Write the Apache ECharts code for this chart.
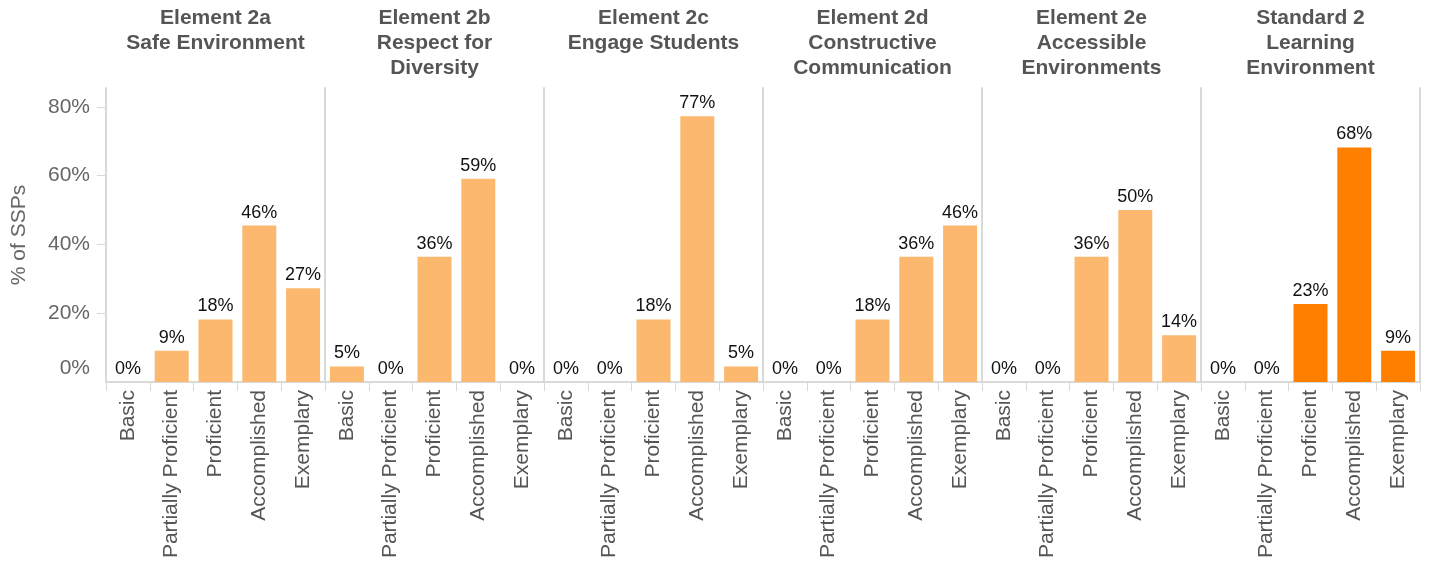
<!DOCTYPE html>
<html>
<head>
<meta charset="utf-8">
<script src="https://cdn.jsdelivr.net/npm/echarts@6/dist/echarts.min.js"></script>
<style>
  html, body { margin: 0; padding: 0; background: #fff; }
  #chart { width: 1430px; height: 569px; }
</style>
</head>
<body>
<div id="chart"></div>
<script>
// Rating levels shown along each panel's x axis
const levels = ['Basic', 'Partially Proficient', 'Proficient', 'Accomplished', 'Exemplary'];

// Panel headings (one per element / standard)
const panelTitles = [
  'Element 2a\nSafe Environment',
  'Element 2b\nRespect for\nDiversity',
  'Element 2c\nEngage Students',
  'Element 2d\nConstructive\nCommunication',
  'Element 2e\nAccessible\nEnvironments',
  'Standard 2\nLearning\nEnvironment'
];

// Percent of SSPs at each level
const element2a = [0, 9.1, 18.2, 45.5, 27.3];
const element2b = [4.5, 0, 36.4, 59.1, 0];
const element2c = [0, 0, 18.2, 77.3, 4.5];
const element2d = [0, 0, 18.2, 36.4, 45.5];
const element2e = [0, 0, 36.4, 50.0, 13.6];
const standard2 = [0, 0, 22.7, 68.2, 9.1];

const panelValues = [element2a, element2b, element2c, element2d, element2e, standard2];
const panelColors = ['#FDB870', '#FDB870', '#FDB870', '#FDB870', '#FDB870', '#FF7F00'];

const yTicks = [0, 20, 40, 60, 80];

const FONT = '"Liberation Sans", Arial, sans-serif';
const LINE = '#d9d9d9';
const plotLeft = 106, plotRight = 1420, plotTop = 88, plotBottom = 382;
const panelW = (plotRight - plotLeft) / panelValues.length;

const grids = [], xAxes = [], yAxes = [], series = [], titles = [];

panelValues.forEach((vals, i) => {
  const left = plotLeft + i * panelW;
  grids.push({ left: left, top: plotTop, width: panelW, height: plotBottom - plotTop });

  titles.push({
    text: panelTitles[i],
    left: left + panelW / 2,
    top: 6,
    padding: 0,
    textAlign: 'center',
    textStyle: { fontFamily: FONT, fontSize: 21, fontWeight: 'bold', color: '#555', lineHeight: 25 }
  });

  xAxes.push({
    type: 'category',
    gridIndex: i,
    data: levels,
    axisLine: { show: true, lineStyle: { color: LINE, width: 2 } },
    axisTick: { show: true, length: 9, lineStyle: { color: LINE, width: 1 } },
    axisLabel: { rotate: 90, margin: 8, fontFamily: FONT, fontSize: 21, color: '#555' }
  });

  yAxes.push({
    type: 'value',
    gridIndex: i,
    min: 0,
    max: 85.5,
    splitLine: { show: false },
    axisLine: { show: true, lineStyle: { color: LINE, width: 2 } },
    axisTick: i === 0
      ? { show: true, length: 9, customValues: [20, 40, 60, 80], lineStyle: { color: LINE } }
      : { show: false },
    axisLabel: i === 0
      ? {
          show: true,
          customValues: yTicks,
          margin: 16,
          fontFamily: FONT,
          fontSize: 21,
          color: '#666',
          formatter: v => (v === 0 ? '{z|0%}' : v + '%'),
          rich: { z: { fontFamily: FONT, fontSize: 21, color: '#666', padding: [0, 0, 28, 0] } }
        }
      : { show: false },
    name: i === 0 ? '% of SSPs' : '',
    nameLocation: 'middle',
    nameRotate: 90,
    nameGap: 76,
    nameTextStyle: { fontFamily: FONT, fontSize: 21, color: '#666' }
  });

  series.push({
    type: 'bar',
    xAxisIndex: i,
    yAxisIndex: i,
    data: vals,
    barWidth: 34,
    itemStyle: { color: panelColors[i] },
    label: {
      show: true,
      position: 'top',
      distance: 4,
      fontFamily: FONT,
      fontSize: 18,
      color: '#111',
      formatter: p => Math.round(p.value) + '%'
    },
    silent: true,
    animation: false
  });
});

// Right-hand border of the last panel
yAxes.push({
  type: 'value',
  gridIndex: panelValues.length - 1,
  position: 'right',
  min: 0,
  max: 85.5,
  splitLine: { show: false },
  axisLine: { show: true, lineStyle: { color: LINE, width: 2 } },
  axisTick: { show: false },
  axisLabel: { show: false }
});

const chart = echarts.init(document.getElementById('chart'), null, { renderer: 'canvas' });
chart.setOption({
  animation: false,
  backgroundColor: '#fff',
  title: titles,
  grid: grids,
  xAxis: xAxes,
  yAxis: yAxes,
  series: series
});
</script>
</body>
</html>
